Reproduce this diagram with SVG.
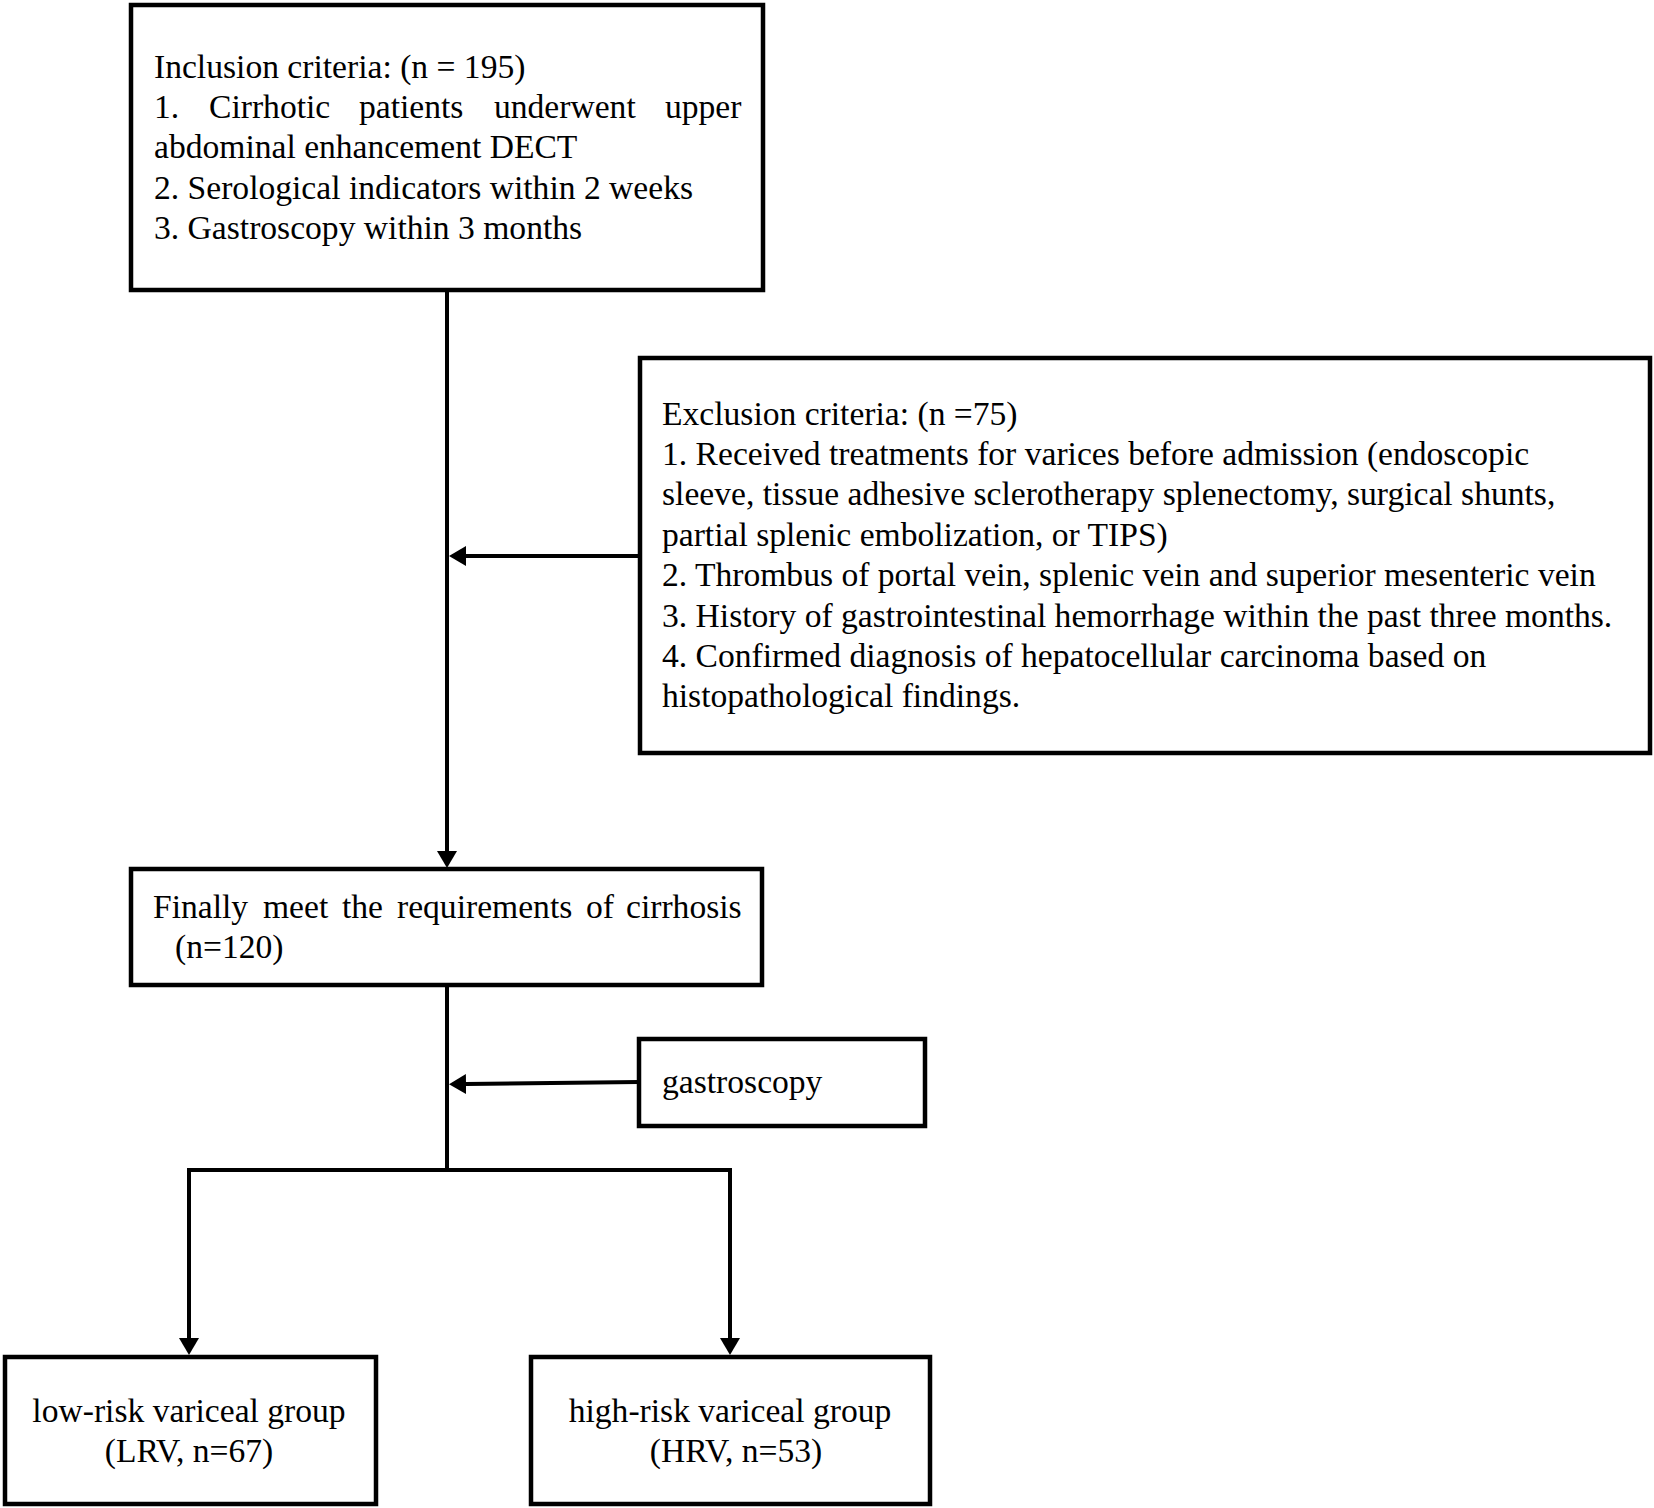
<svg xmlns="http://www.w3.org/2000/svg" width="1654" height="1508" viewBox="0 0 1654 1508">
<style>
.box{fill:#fff;stroke:#000;stroke-width:4.5}
.t{font-family:"Liberation Serif","Times New Roman",serif;font-size:33.6px;fill:#000}
.c{text-anchor:middle}
.conn{fill:none;stroke:#000;stroke-width:4}
</style>
<defs>
<marker id="ah" markerUnits="userSpaceOnUse" markerWidth="17" markerHeight="20" refX="0" refY="10" orient="auto">
<path d="M0,0 L17,10 L0,20 z" fill="#000"/>
</marker>
</defs>
<rect width="1654" height="1508" fill="#fff"/>
<g id="connectors">
<path class="conn" d="M447,291 V851" marker-end="url(#ah)"/>
<path class="conn" d="M640,556 H466" marker-end="url(#ah)"/>
<path class="conn" d="M447,986 V1170"/>
<path class="conn" d="M639,1082 L466,1084" marker-end="url(#ah)"/>
<path class="conn" d="M187,1170 H732"/>
<path class="conn" d="M189,1168 V1338" marker-end="url(#ah)"/>
<path class="conn" d="M730,1168 V1338" marker-end="url(#ah)"/>
</g>
<g id="inclusion">
<rect class="box" x="131" y="5" width="632" height="285"/>
<text class="t" x="154" y="78">Inclusion criteria: (n = 195)</text>
<text class="t" y="118"><tspan x="154">1.</tspan><tspan x="209">Cirrhotic</tspan><tspan x="359">patients</tspan><tspan x="494">underwent</tspan><tspan x="665">upper</tspan></text>
<text class="t" x="154" y="158">abdominal enhancement DECT</text>
<text class="t" x="154" y="199">2. Serological indicators within 2 weeks</text>
<text class="t" x="154" y="239">3. Gastroscopy within 3 months</text>
</g>
<g id="exclusion">
<rect class="box" x="640" y="358" width="1010" height="395"/>
<text class="t" x="662" y="425">Exclusion criteria: (n =75)</text>
<text class="t" x="662" y="465">1. Received treatments for varices before admission (endoscopic</text>
<text class="t" x="662" y="505">sleeve, tissue adhesive sclerotherapy splenectomy, surgical shunts,</text>
<text class="t" x="662" y="546">partial splenic embolization, or TIPS)</text>
<text class="t" x="662" y="586">2. Thrombus of portal vein, splenic vein and superior mesenteric vein</text>
<text class="t" x="662" y="627">3. History of gastrointestinal hemorrhage within the past three months.</text>
<text class="t" x="662" y="667">4. Confirmed diagnosis of hepatocellular carcinoma based on</text>
<text class="t" x="662" y="707">histopathological findings.</text>
</g>
<g id="final">
<rect class="box" x="131" y="869" width="631" height="116"/>
<text class="t" y="918"><tspan x="153">Finally</tspan><tspan x="263">meet</tspan><tspan x="342">the</tspan><tspan x="397">requirements</tspan><tspan x="586">of</tspan><tspan x="626">cirrhosis</tspan></text>
<text class="t" x="175" y="958">(n=120)</text>
</g>
<g id="gastroscopy">
<rect class="box" x="639" y="1039" width="286" height="87"/>
<text class="t" x="662" y="1093">gastroscopy</text>
</g>
<g id="lrv">
<rect class="box" x="5" y="1357" width="371" height="147"/>
<text class="t c" x="189" y="1422">low-risk variceal group</text>
<text class="t c" x="189" y="1462">(LRV, n=67)</text>
</g>
<g id="hrv">
<rect class="box" x="531" y="1357" width="399" height="147"/>
<text class="t c" x="730" y="1422">high-risk variceal group</text>
<text class="t c" x="736" y="1462">(HRV, n=53)</text>
</g>
</svg>
